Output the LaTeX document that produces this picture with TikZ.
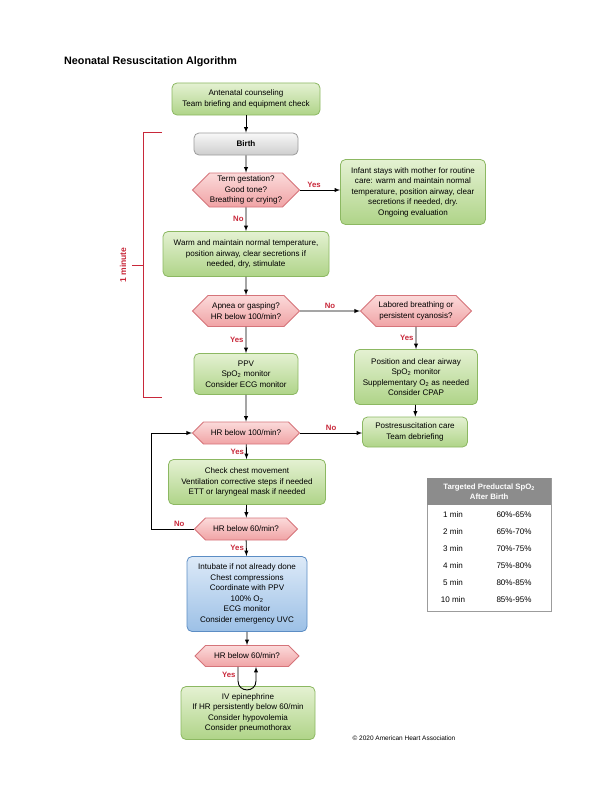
\documentclass[tikz,border=0pt]{standalone}
\usepackage{fontspec}
\setmainfont{Liberation Sans}
\usetikzlibrary{shapes.symbols}

\definecolor{grnline}{HTML}{8CB862}
\definecolor{grntop}{HTML}{E4F1D2}
\definecolor{grnbot}{HTML}{AFD488}
\definecolor{hexline}{HTML}{D5747A}
\definecolor{hextop}{HTML}{FBDADA}
\definecolor{hexbot}{HTML}{F0A3A5}
\definecolor{gryline}{HTML}{9C9C9C}
\definecolor{grytop}{HTML}{F8F8F8}
\definecolor{grybot}{HTML}{CDCDCD}
\definecolor{bluline}{HTML}{5C8DC4}
\definecolor{blutop}{HTML}{DDEAF8}
\definecolor{blubot}{HTML}{9CC0E6}
\definecolor{labred}{HTML}{C8283A}
\definecolor{tabgray}{HTML}{8C8C8C}

\begin{document}
\begin{tikzpicture}[x=1bp,y=-1bp,>=latex,
  every node/.style={font=\fontsize{8.1}{10.5}\selectfont,align=center,inner sep=2bp},
  grnbox/.style={draw=grnline,top color=grntop,bottom color=grnbot,rounded corners=5bp,line width=0.8bp},
  grybox/.style={draw=gryline,top color=grytop,bottom color=grybot,rounded corners=5bp,line width=0.8bp},
  blubox/.style={draw=bluline,top color=blutop,bottom color=blubot,rounded corners=5bp,line width=0.8bp},
  hexbox/.style={signal,signal to=west and east,draw=hexline,top color=hextop,bottom color=hexbot,line width=0.8bp,inner xsep=0bp},
  lab/.style={font=\fontsize{7.8}{9}\selectfont\bfseries,text=labred},
  arr/.style={->,line width=0.9bp}]

\useasboundingbox (0,0) rectangle (612,792);

\node[anchor=west,font=\fontsize{10.8}{12}\selectfont\bfseries] (title) at (62,62) {Neonatal Resuscitation Algorithm};

\node[grnbox,minimum width=148bp,minimum height=32bp] (ante) at (246,99) {Antenatal counseling\\Team briefing and equipment check};
\node[grybox,minimum width=104bp,minimum height=22bp] (birth) at (246,144) {\textbf{Birth}};
\node[hexbox,minimum width=107bp,minimum height=34bp] (gest) at (246,190) {Term gestation?\\Good tone?\\Breathing or crying?};
\node[grnbox,minimum width=145bp,minimum height=65bp] (mother) at (413,192) {Infant stays with mother for routine\\care: warm and maintain normal\\temperature, position airway, clear\\secretions if needed, dry.\\Ongoing evaluation};
\node[grnbox,minimum width=166bp,minimum height=45bp] (warm) at (246,254) {Warm and maintain normal temperature,\\position airway, clear secretions if\\needed, dry, stimulate};
\node[hexbox,minimum width=107bp,minimum height=31bp] (apnea) at (246,311) {Apnea or gasping?\\HR below 100/min?};
\node[hexbox,minimum width=111bp,minimum height=31bp] (labored) at (416,311) {Labored breathing or\\persistent cyanosis?};
\node[grnbox,minimum width=104bp,minimum height=41bp] (ppv) at (246,374) {PPV\\SpO\textsubscript{2} monitor\\Consider ECG monitor};
\node[grnbox,minimum width=123bp,minimum height=55bp] (cpap) at (416,377) {Position and clear airway\\SpO\textsubscript{2} monitor\\Supplementary O\textsubscript{2} as needed\\Consider CPAP};
\node[hexbox,minimum width=107bp,minimum height=22bp] (hrA) at (246,433) {HR below 100/min?};
\node[grnbox,minimum width=105bp,minimum height=30bp] (post) at (415,432) {Postresuscitation care\\Team debriefing};
\node[grnbox,minimum width=157bp,minimum height=45bp] (check) at (247,482) {Check chest movement\\Ventilation corrective steps if needed\\ETT or laryngeal mask if needed};
\node[hexbox,minimum width=103bp,minimum height=22bp] (hrB) at (246,529) {HR below 60/min?};
\node[blubox,minimum width=120bp,minimum height=75bp] (comp) at (247,594) {Intubate if not already done\\Chest compressions\\Coordinate with PPV\\100\% O\textsubscript{2}\\ECG monitor\\Consider emergency UVC};
\node[hexbox,minimum width=104bp,minimum height=21bp] (hrC) at (247,656) {HR below 60/min?};
\node[grnbox,minimum width=134bp,minimum height=53bp] (epi) at (248,713) {IV epinephrine\\If HR persistently below 60/min\\Consider hypovolemia\\Consider pneumothorax};

\draw[arr] (ante) -- (birth);
\draw[arr] (birth) -- (gest);
\draw[arr] (gest.east) -- node[lab,above,pos=0.35] {Yes} (gest.east -| mother.west);
\draw[arr] (gest) -- node[lab,left] {No} (warm);
\draw[arr] (warm) -- (apnea);
\draw[arr] (apnea) -- node[lab,above] {No} (labored);
\draw[arr] (apnea) -- node[lab,left] {Yes} (ppv);
\draw[arr] (labored) -- node[lab,left] {Yes} (cpap);
\draw[arr] (ppv) -- (hrA);
\draw[arr] (cpap) -- (post);
\draw[arr] (hrA.east) -- node[lab,above] {No} (hrA.east -| post.west);
\draw[arr] (hrA) -- node[lab,left] {Yes} (check);
\draw[arr] (check) -- (hrB);
\draw[arr] (hrB.west) -- node[lab,above,pos=0.35] {No} ++(-42,0) |- (hrA.west);
\draw[arr] (hrB) -- node[lab,left] {Yes} (comp);
\draw[arr] (comp) -- (hrC);
\draw[arr] ([xshift=-9bp]hrC.south) -- node[lab,left,pos=0.6] {Yes} ++(0,14) .. controls +(0,12) and +(0,12) .. ++(18,0) -- ([xshift=9bp]hrC.south);

% one minute bracket
\draw[labred,line width=0.9bp] (162,132) -- (143,132) -- (143,397) -- (162,397);
\draw[labred,line width=0.9bp] (143,265) -- (132,265);
\node[lab,font=\fontsize{8.6}{10}\selectfont\bfseries,rotate=90] (onemin) at (123,265) {1 minute};

% SpO2 table
\draw[gryline,line width=0.8bp] (427,478) rectangle (551,611);
\node[fill=tabgray,text=white,font=\fontsize{7.8}{9.5}\selectfont\bfseries,minimum width=124bp,minimum height=27bp,anchor=north west] (tabhd) at (427,478) {Targeted Preductal SpO\textsubscript{2}\\After Birth};
\node (ta1) at (453,515) {1 min};
\node (tb1) at (514,515) {60\%-65\%};
\node (ta2) at (453,532) {2 min};
\node (tb2) at (514,532) {65\%-70\%};
\node (ta3) at (453,549) {3 min};
\node (tb3) at (514,549) {70\%-75\%};
\node (ta4) at (453,566) {4 min};
\node (tb4) at (514,566) {75\%-80\%};
\node (ta5) at (453,583) {5 min};
\node (tb5) at (514,583) {80\%-85\%};
\node (ta6) at (453,600) {10 min};
\node (tb6) at (514,600) {85\%-95\%};

\node[font=\fontsize{6.5}{7.5}\selectfont] (copy) at (404,738) {\textcopyright{} 2020 American Heart Association};

\end{tikzpicture}
\end{document}
